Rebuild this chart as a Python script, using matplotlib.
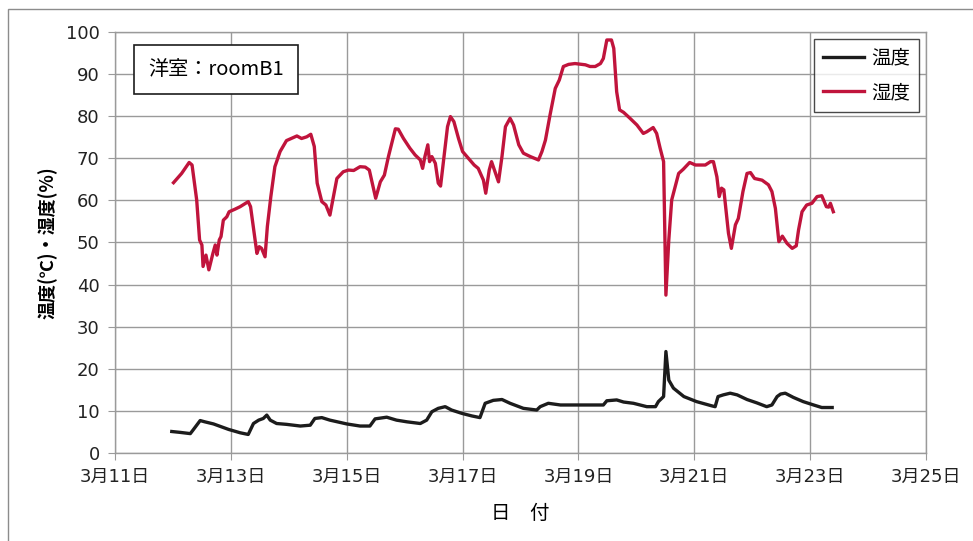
import numpy as np
import matplotlib
matplotlib.use('Agg')
import matplotlib.pyplot as plt
from matplotlib.patches import Rectangle

plt.rcParams['font.family'] = ['Noto Sans CJK JP', 'DejaVu Sans']

# 日付 (3月の日, 小数は時刻)
hum_day = [12.01, 12.15, 12.28, 12.33, 12.41, 12.46, 12.50, 12.52, 12.57, 12.62, 12.69, 12.73,
           12.76, 12.80, 12.83, 12.87, 12.93, 12.97, 13.07, 13.16, 13.30, 13.34, 13.45, 13.49,
           13.53, 13.59, 13.63, 13.69, 13.76, 13.85, 13.96, 14.14, 14.22, 14.31, 14.38, 14.44,
           14.49, 14.57, 14.64, 14.71, 14.83, 14.94, 15.03, 15.12, 15.23, 15.32, 15.39, 15.50,
           15.58, 15.65, 15.72, 15.84, 15.89, 15.98, 16.09, 16.18, 16.27, 16.31, 16.35, 16.40,
           16.43, 16.47, 16.53, 16.58, 16.62, 16.68, 16.74, 16.79, 16.85, 16.93, 17.00, 17.10,
           17.20, 17.27, 17.36, 17.40, 17.46, 17.50, 17.55, 17.62, 17.68, 17.74, 17.82, 17.88,
           17.97, 18.05, 18.17, 18.31, 18.37, 18.43, 18.51, 18.60, 18.67, 18.74, 18.83, 18.94,
           19.12, 19.20, 19.29, 19.38, 19.43, 19.49, 19.57, 19.61, 19.66, 19.71, 19.78, 19.89,
           20.01, 20.12, 20.18, 20.29, 20.35, 20.41, 20.47, 20.51, 20.56, 20.61, 20.73, 20.81,
           20.92, 21.02, 21.19, 21.28, 21.33, 21.39, 21.43, 21.47, 21.51, 21.59, 21.64, 21.71,
           21.76, 21.84, 21.91, 21.97, 22.04, 22.17, 22.28, 22.34, 22.40, 22.46, 22.52, 22.60,
           22.69, 22.76, 22.80, 22.86, 22.94, 23.03, 23.12, 23.20, 23.28, 23.32, 23.35, 23.40]
humidity = [64.2, 66.4, 69.0, 68.4, 60.1, 50.6, 49.4, 44.3, 47.0, 43.5, 47.4, 49.4,
            47.0, 50.6, 51.4, 55.3, 56.1, 57.3, 57.9, 58.5, 59.7, 58.5, 47.4, 49.0,
            48.6, 46.6, 53.8, 60.9, 68.0, 71.6, 74.2, 75.3, 74.7, 75.1, 75.7, 72.8,
            64.1, 59.7, 58.9, 56.5, 65.2, 66.8, 67.2, 67.1, 68.0, 67.9, 67.2, 60.5,
            64.4, 66.0, 70.4, 77.0, 76.9, 74.7, 72.4, 70.8, 69.6, 67.6, 70.4, 73.2,
            69.2, 70.4, 68.8, 64.1, 63.4, 70.4, 77.5, 79.9, 78.7, 74.7, 71.6, 70.0,
            68.4, 67.6, 64.8, 61.7, 67.2, 69.2, 67.2, 64.4, 70.4, 77.5, 79.5, 77.9,
            73.2, 71.2, 70.4, 69.6, 71.6, 74.3, 80.3, 86.6, 88.6, 91.8, 92.3, 92.5,
            92.2, 91.8, 91.8, 92.5, 93.7, 98.1, 98.1, 96.1, 85.8, 81.5, 80.9, 79.5,
            77.9, 75.9, 76.3, 77.3, 75.9, 72.4, 69.2, 37.5, 50.6, 60.1, 66.4, 67.4,
            69.0, 68.4, 68.4, 69.2, 69.2, 65.6, 60.9, 62.9, 62.5, 52.2, 48.6, 54.2,
            55.7, 62.1, 66.4, 66.6, 65.2, 64.8, 63.7, 62.1, 58.1, 50.2, 51.5, 49.8,
            48.6, 49.2, 53.0, 57.3, 58.9, 59.3, 60.9, 61.1, 58.5, 58.4, 59.3, 57.3]

temp_day = [11.98, 12.12, 12.30, 12.35, 12.47, 12.55, 12.70, 12.96, 13.16, 13.30, 13.39, 13.48,
            13.56, 13.62, 13.68, 13.79, 13.96, 14.20, 14.37, 14.45, 14.57, 14.71, 15.00, 15.23,
            15.40, 15.49, 15.69, 15.86, 16.04, 16.27, 16.38, 16.47, 16.58, 16.70, 16.81, 16.99,
            17.16, 17.30, 17.39, 17.53, 17.68, 17.82, 18.05, 18.28, 18.34, 18.48, 18.69, 19.09,
            19.43, 19.49, 19.66, 19.78, 19.95, 20.18, 20.33, 20.38, 20.47, 20.51, 20.56, 20.64,
            20.82, 21.04, 21.30, 21.36, 21.41, 21.50, 21.62, 21.74, 21.91, 22.08, 22.25, 22.34,
            22.43, 22.49, 22.57, 22.71, 22.88, 23.06, 23.20, 23.38]
temperature = [5.1, 4.9, 4.6, 5.5, 7.7, 7.4, 6.9, 5.6, 4.8, 4.4, 7.0, 7.8,
               8.2, 9.0, 7.8, 7.0, 6.8, 6.4, 6.6, 8.2, 8.4, 7.8, 6.9, 6.4,
               6.4, 8.1, 8.5, 7.8, 7.4, 7.0, 7.8, 9.8, 10.6, 11.0, 10.2, 9.4,
               8.8, 8.4, 11.8, 12.5, 12.7, 11.8, 10.6, 10.2, 11.0, 11.8, 11.4, 11.4,
               11.4, 12.4, 12.6, 12.1, 11.8, 11.0, 11.0, 12.2, 13.4, 24.1, 17.3, 15.4,
               13.4, 12.2, 11.2, 11.0, 13.4, 13.8, 14.2, 13.8, 12.7, 11.9, 11.0, 11.4,
               13.4, 14.0, 14.2, 13.2, 12.2, 11.4, 10.8, 10.8]

x_ticks = [11, 13, 15, 17, 19, 21, 23, 25]
x_labels = ['3月%d日' % d for d in x_ticks]
y_ticks = list(range(0, 101, 10))

fig = plt.figure(figsize=(9.73, 5.41), dpi=100)
ax = fig.add_axes([0.1182, 0.1627, 0.8335, 0.7782])

# 外枠 (右と下ははみ出す)
fig.patches.append(Rectangle((8 / 973, -0.05), 1.1, 1 - 9 / 541 + 0.05,
                             transform=fig.transFigure, fill=False,
                             edgecolor='#8c8c8c', linewidth=1.0))

ax.plot(temp_day, temperature, color='#1c1c1c', linewidth=2.4, label='温度')
ax.plot(hum_day, humidity, color='#c0143c', linewidth=2.4, label='湿度')

ax.set_xlim(11, 25)
ax.set_ylim(0, 100)
ax.set_xticks(x_ticks)
ax.set_xticklabels(x_labels)
ax.set_yticks(y_ticks)
ax.grid(True, color='#9a9a9a', linewidth=1.0)
ax.set_axisbelow(True)
for s in ax.spines.values():
    s.set_color('#9a9a9a')
    s.set_linewidth(1.0)
ax.tick_params(axis='both', direction='out', length=5, color='#9a9a9a',
               labelsize=13, labelcolor='#222222', pad=6)
# 数字は幅広の字体で
for lab in ax.get_xticklabels() + ax.get_yticklabels():
    lab.set_family(['DejaVu Sans', 'Noto Sans CJK JP'])

ax.set_ylabel('温度(℃)・湿度(%)', fontsize=13, fontweight='bold', labelpad=6)
ax.set_xlabel('日　付', fontsize=14, labelpad=12)

ax.text(0.041, 0.91, '洋室：roomB1', transform=ax.transAxes, fontsize=14.5,
        va='center', ha='left',
        bbox=dict(boxstyle='square,pad=0.7', facecolor='white', edgecolor='#1c1c1c', linewidth=1.2))

leg = ax.legend(loc='upper right', fontsize=14, frameon=True, fancybox=False,
                handlelength=2.1, borderaxespad=0.35, labelspacing=0.7, borderpad=0.45,
                handletextpad=0.4)
leg.get_frame().set_edgecolor('#1c1c1c')
leg.get_frame().set_linewidth(1.0)

fig.savefig('out.png', dpi=100)
